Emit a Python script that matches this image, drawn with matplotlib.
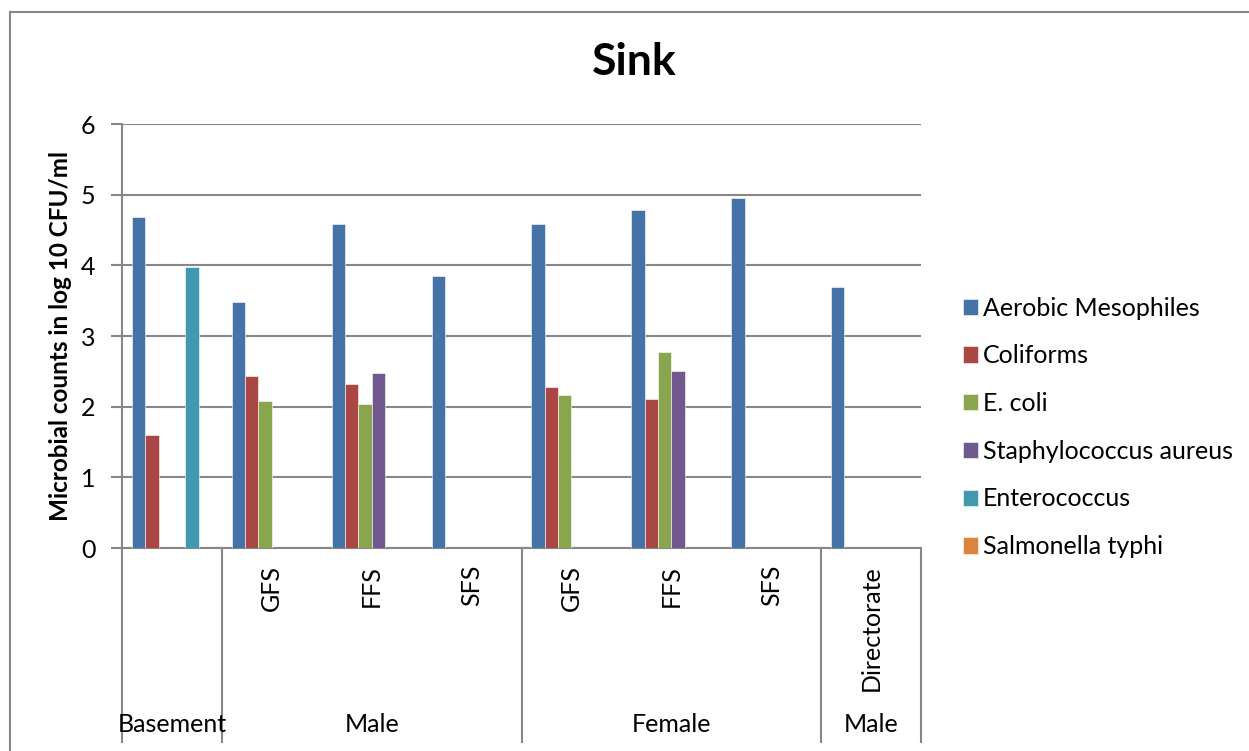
import numpy as np
import matplotlib.pyplot as plt
from matplotlib.lines import Line2D
from matplotlib.transforms import blended_transform_factory

plt.rcParams["font.family"] = ["Lato", "DejaVu Sans"]

sites = ["", "GFS", "FFS", "SFS", "GFS", "FFS", "SFS", "Directorate"]
sections = ["Basement", "Male", "Female", "Male"]
section_spans = [(0, 0), (1, 3), (4, 6), (7, 7)]

series = ["Aerobic Mesophiles", "Coliforms", "E. coli",
          "Staphylococcus aureus", "Enterococcus", "Salmonella typhi"]
aerobic = [4.68, 3.48, 4.58, 3.85, 4.59, 4.78, 4.95, 3.70]
coliforms = [1.60, 2.43, 2.32, 0, 2.28, 2.11, 0, 0]
ecoli = [0, 2.08, 2.04, 0, 2.17, 2.78, 0, 0]
staph = [0, 0, 2.48, 0, 0, 2.50, 0, 0]
entero = [3.98, 0, 0, 0, 0, 0, 0, 0]
salmonella = [0, 0, 0, 0, 0, 0, 0, 0]
values = [aerobic, coliforms, ecoli, staph, entero, salmonella]

colors = ["#4572A7", "#AA4643", "#89A54E", "#71588F", "#4198AF", "#DB843D"]
grey = "#878787"
fs = 18

W, H = 1249, 751
fig = plt.figure(figsize=(W / 100, H / 100), dpi=100)
ax = fig.add_axes([122 / W, 1 - 548 / H, (921 - 122) / W, (548 - 124) / H])

x = np.arange(len(sites))
width = 1 / 7.5
for j, (name, vals, c) in enumerate(zip(series, values, colors)):
    ax.bar(x + (j - 2.5) * width, vals, width, color=c, label=name,
           edgecolor="white", linewidth=0.4, zorder=3)

ax.set_xlim(-0.5, len(sites) - 0.5)
ax.set_ylim(0, 6)
ax.set_yticks(range(7))
ax.yaxis.grid(True, color=grey, linewidth=1.5, zorder=0)
ax.set_xticks([])
for side in ["top", "right"]:
    ax.spines[side].set_visible(False)
for side in ["left", "bottom"]:
    ax.spines[side].set_color(grey)
    ax.spines[side].set_linewidth(1.5)
ax.tick_params(axis="y", length=8, width=1.5, color=grey, labelsize=fs, pad=11)

# two-level category axis
trans = blended_transform_factory(ax.transData, ax.transAxes)
axh = 548 - 124
for lab, xi in zip(sites, x):
    ax.text(xi, -17 / axh, lab, rotation=90, ha="center", va="top",
            fontsize=fs, transform=trans)
for lab, (a, b) in zip(sections, section_spans):
    ax.text((a + b) / 2, -(725 - 548) / axh, lab, ha="center", va="center",
            fontsize=fs, transform=trans)
for xs in [-0.5, 0.5, 3.5, 6.5, 7.5]:
    ax.add_line(Line2D([xs, xs], [0, -(742 - 548) / axh], color=grey,
                       linewidth=1.5, transform=trans, clip_on=False))

fig.text(634 / W, 1 - 62 / H, "Sink", ha="center", va="center",
         fontsize=32, fontweight="bold")
fig.text(61 / W, 1 - 336 / H, "Microbial counts in log 10 CFU/ml",
         rotation=90, ha="center", va="center", fontsize=17.5,
         fontweight="bold")

fig.legend(loc="upper left", bbox_to_anchor=(940 / W, 1 - 274 / H),
           frameon=False, fontsize=fs, handlelength=0.62, handleheight=0.62,
           handletextpad=0.2, labelspacing=0.99)

# chart area border
fig.add_artist(Line2D([10 / W, 1], [1 - 12 / H, 1 - 12 / H], color=grey,
                      linewidth=1.5, transform=fig.transFigure))
fig.add_artist(Line2D([10 / W, 10 / W], [0, 1 - 12 / H], color=grey,
                      linewidth=1.5, transform=fig.transFigure))

fig.savefig("out.png", dpi=100)
